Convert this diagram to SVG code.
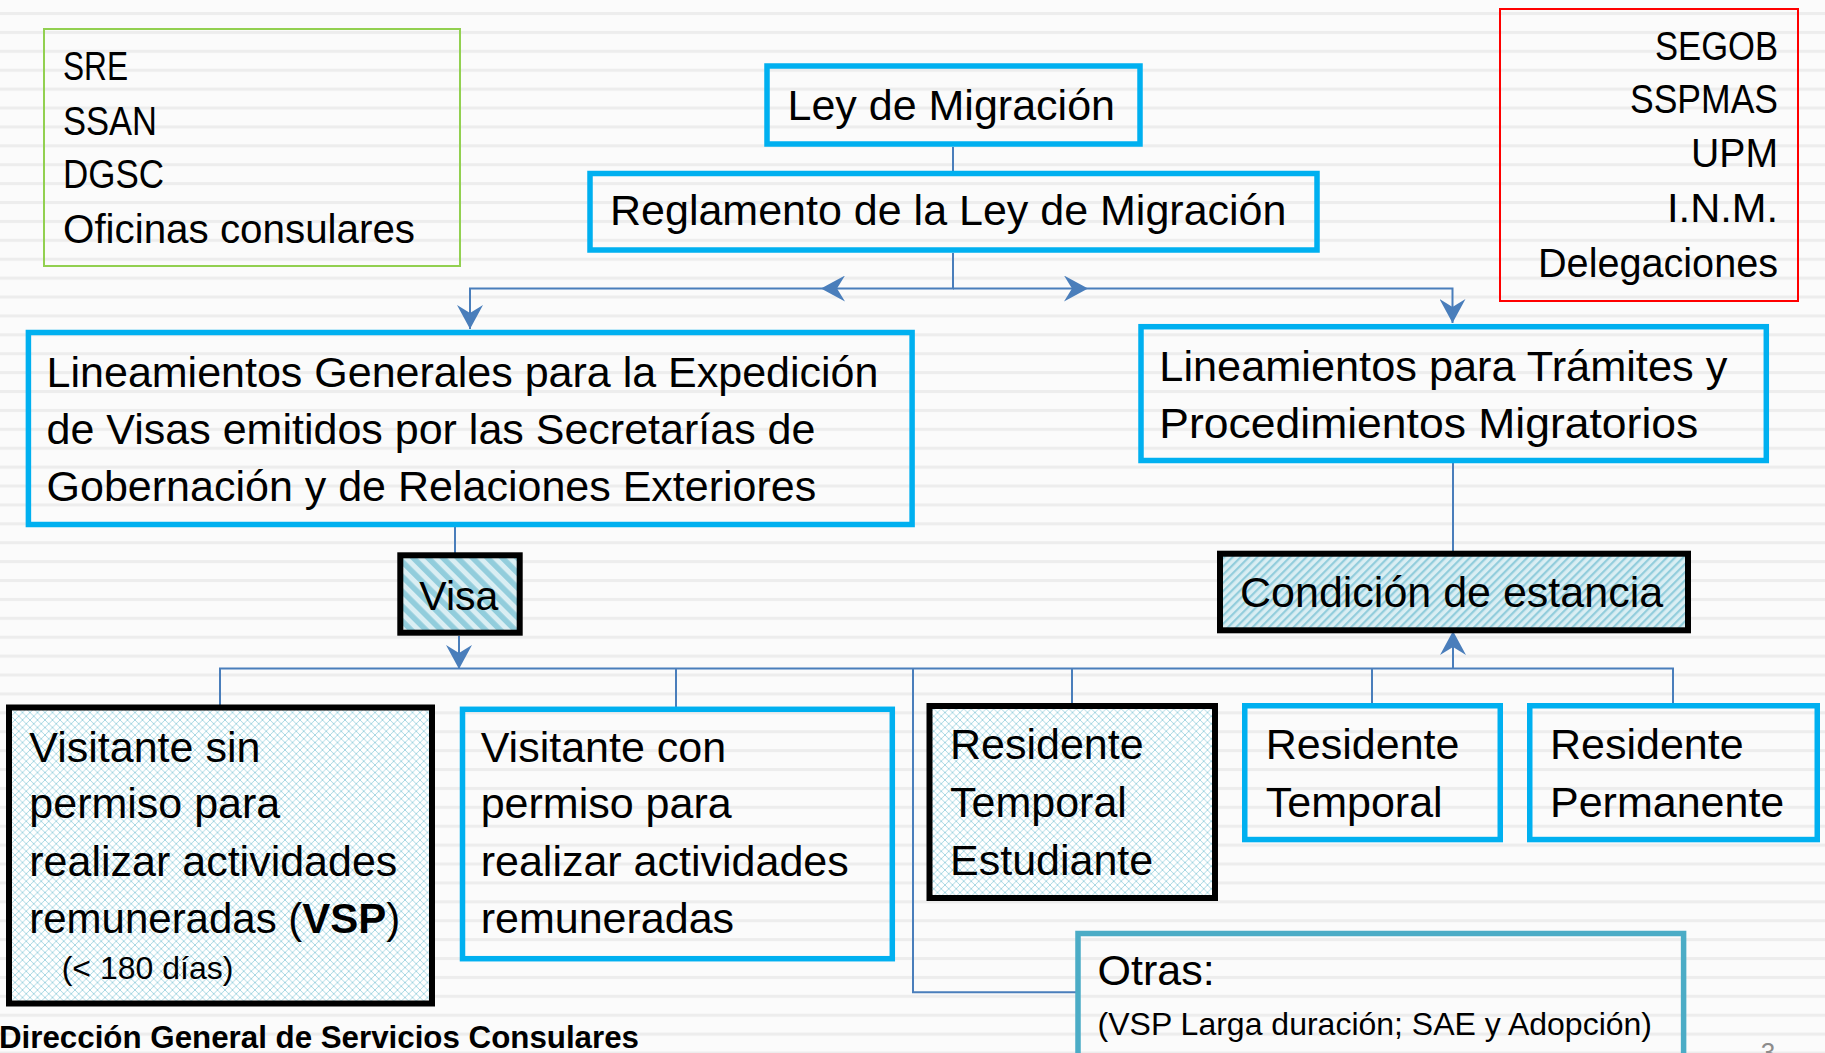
<svg xmlns="http://www.w3.org/2000/svg" width="1825" height="1053" viewBox="0 0 1825 1053">
<defs>
<style>
.t{font-family:"Liberation Sans",Arial,sans-serif;font-size:43px;fill:#000}
.s{font-size:40px}
.m{font-size:32px}
.blue{fill:none;stroke:#00b0f0;stroke-width:5.5}
.blk{stroke:#000;stroke-width:6}
.con{fill:none;stroke:#4a7ebb;stroke-width:2}
</style>
<pattern id="bg" patternUnits="userSpaceOnUse" width="40" height="18.9" y="12">
<rect width="40" height="18.9" fill="#fbfbfb"/>
<rect width="40" height="3" fill="#ededed"/>
</pattern>
<pattern id="wide" patternUnits="userSpaceOnUse" width="10.5" height="10.5" patternTransform="rotate(-45)">
<rect width="10.5" height="10.5" fill="#daeef3"/>
<rect width="5.5" height="10.5" fill="#92cddc"/>
</pattern>
<pattern id="thin" patternUnits="userSpaceOnUse" width="5.8" height="5.8" patternTransform="rotate(45)">
<rect width="5.8" height="5.8" fill="#daeef3"/>
<rect width="2.2" height="5.8" fill="#92cddc"/>
</pattern>
<pattern id="grid" patternUnits="userSpaceOnUse" width="7.5" height="7.5">
<rect width="7.5" height="7.5" fill="#ffffff"/>
<path d="M0,0 L7.5,7.5 M7.5,0 L0,7.5" stroke="#9fd3e0" stroke-width="0.9"/>
</pattern>
<marker id="arr" markerUnits="userSpaceOnUse" markerWidth="24" markerHeight="26" viewBox="0 0 24 26" refX="24" refY="13" orient="auto">
<path d="M0,0 L24,13 L0,26 L8,13 Z" fill="#4a7ebb"/>
</marker>
</defs>
<rect width="1825" height="1053" fill="url(#bg)"/>

<g id="connectors">
<path class="con" d="M953,147 V171"/>
<path class="con" d="M953,253 V288.5 H821" marker-end="url(#arr)"/>
<path class="con" d="M821,288.5 H470 V329" marker-end="url(#arr)"/>
<path class="con" d="M953,288.5 H1088" marker-end="url(#arr)"/>
<path class="con" d="M1088,288.5 H1452.5 V323" marker-end="url(#arr)"/>
<path class="con" d="M455,527 V553"/>
<path class="con" d="M459,636 V669" marker-end="url(#arr)"/>
<path class="con" d="M1453,463 V551"/>
<path class="con" d="M220,705 V668.5 H1673 V704"/>
<path class="con" d="M676,668.5 V707"/>
<path class="con" d="M1072,668.5 V704"/>
<path class="con" d="M1372,668.5 V704"/>
<path class="con" d="M913,668.5 V992.3 H1076"/>
<path class="con" d="M1453,668.5 V631" marker-end="url(#arr)"/>
</g>

<g id="sre">
<rect x="44" y="29" width="416" height="237" fill="none" stroke="#92d050" stroke-width="2"/>
<text class="t s" x="63" y="80" textLength="65" lengthAdjust="spacingAndGlyphs">SRE</text>
<text class="t s" x="63" y="135" textLength="94" lengthAdjust="spacingAndGlyphs">SSAN</text>
<text class="t s" x="63" y="188" textLength="101" lengthAdjust="spacingAndGlyphs">DGSC</text>
<text class="t s" x="63" y="243" textLength="352" lengthAdjust="spacingAndGlyphs">Oficinas consulares</text>
</g>

<g id="segob">
<rect x="1500" y="9" width="298" height="292" fill="none" stroke="#ff0000" stroke-width="2"/>
<text class="t s" x="1655" y="60" textLength="123" lengthAdjust="spacingAndGlyphs">SEGOB</text>
<text class="t s" x="1630" y="113" textLength="148" lengthAdjust="spacingAndGlyphs">SSPMAS</text>
<text class="t s" x="1691" y="167" textLength="87" lengthAdjust="spacingAndGlyphs">UPM</text>
<text class="t s" x="1667" y="222" textLength="111" lengthAdjust="spacingAndGlyphs">I.N.M.</text>
<text class="t s" x="1538" y="277" textLength="240" lengthAdjust="spacingAndGlyphs">Delegaciones</text>
</g>

<g id="ley">
<rect class="blue" x="767" y="66" width="373" height="78"/>
<text class="t" x="787.5" y="120">Ley de Migración</text>
</g>

<g id="reglamento">
<rect class="blue" x="590" y="173.5" width="727" height="76.5"/>
<text class="t" x="610" y="225">Reglamento de la Ley de Migración</text>
</g>

<g id="lineamientos-visas">
<rect class="blue" x="28.4" y="332.5" width="883.7" height="192"/>
<text class="t" x="46.6" y="386.5">Lineamientos Generales para la Expedición</text>
<text class="t" x="46.6" y="443.5">de Visas emitidos por las Secretarías de</text>
<text class="t" x="46.6" y="500.5">Gobernación y de Relaciones Exteriores</text>
</g>

<g id="lineamientos-tramites">
<rect class="blue" x="1141" y="326.7" width="625.3" height="133.8"/>
<text class="t" x="1159.3" y="380.6" textLength="568" lengthAdjust="spacingAndGlyphs">Lineamientos para Trámites y</text>
<text class="t" x="1159.3" y="437.6" textLength="539" lengthAdjust="spacingAndGlyphs">Procedimientos Migratorios</text>
</g>

<g id="visa">
<rect class="blk" x="400.3" y="555.3" width="119.4" height="77.4" fill="url(#wide)"/>
<text class="t" x="419.3" y="610" style="font-size:41px">Visa</text>
</g>

<g id="condicion">
<rect class="blk" x="1220" y="553.7" width="468" height="76.6" fill="url(#thin)"/>
<text class="t" x="1240" y="606.7">Condición de estancia</text>
</g>

<g id="vsp">
<rect class="blk" x="9" y="707.5" width="423" height="296" fill="url(#grid)"/>
<text class="t" x="29.3" y="761.7">Visitante sin</text>
<text class="t" x="29.3" y="818.3">permiso para</text>
<text class="t" x="29.3" y="876">realizar actividades</text>
<text class="t" x="29.3" y="932.7" textLength="371" lengthAdjust="spacingAndGlyphs">remuneradas (<tspan font-weight="bold">VSP</tspan>)</text>
<text class="t m" x="61.7" y="979.3">(&lt; 180 días)</text>
</g>

<g id="vcp">
<rect class="blue" x="462.5" y="709.3" width="429.8" height="249.4"/>
<text class="t" x="480.7" y="761.7">Visitante con</text>
<text class="t" x="480.7" y="818.3">permiso para</text>
<text class="t" x="480.7" y="876">realizar actividades</text>
<text class="t" x="480.7" y="932.7">remuneradas</text>
</g>

<g id="rte">
<rect class="blk" x="929.5" y="706" width="285.5" height="192" fill="url(#grid)"/>
<text class="t" x="950" y="759.3">Residente</text>
<text class="t" x="950" y="816.7">Temporal</text>
<text class="t" x="950" y="875">Estudiante</text>
</g>

<g id="rt">
<rect class="blue" x="1244.75" y="705.75" width="255.5" height="133.8"/>
<text class="t" x="1265.8" y="759.3">Residente</text>
<text class="t" x="1265.8" y="816.7">Temporal</text>
</g>

<g id="rp">
<rect class="blue" x="1529.75" y="705.75" width="287.5" height="133.8"/>
<text class="t" x="1550" y="759.3">Residente</text>
<text class="t" x="1550" y="816.7">Permanente</text>
</g>

<g id="otras">
<rect x="1078" y="933.5" width="605.6" height="140" fill="none" stroke="#4bacc6" stroke-width="5.5"/>
<text class="t" x="1097.6" y="985">Otras:</text>
<text class="t m" x="1097.6" y="1035">(VSP Larga duración; SAE y Adopción)</text>
</g>

<g id="footer">
<text class="t" x="-1" y="1048" textLength="640" lengthAdjust="spacingAndGlyphs" style="font-size:31px;font-weight:bold">Dirección General de Servicios Consulares</text>
<text class="t" x="1768" y="1061" text-anchor="middle" style="font-size:26px;fill:#8c8c8c">3</text>
</g>
</svg>
